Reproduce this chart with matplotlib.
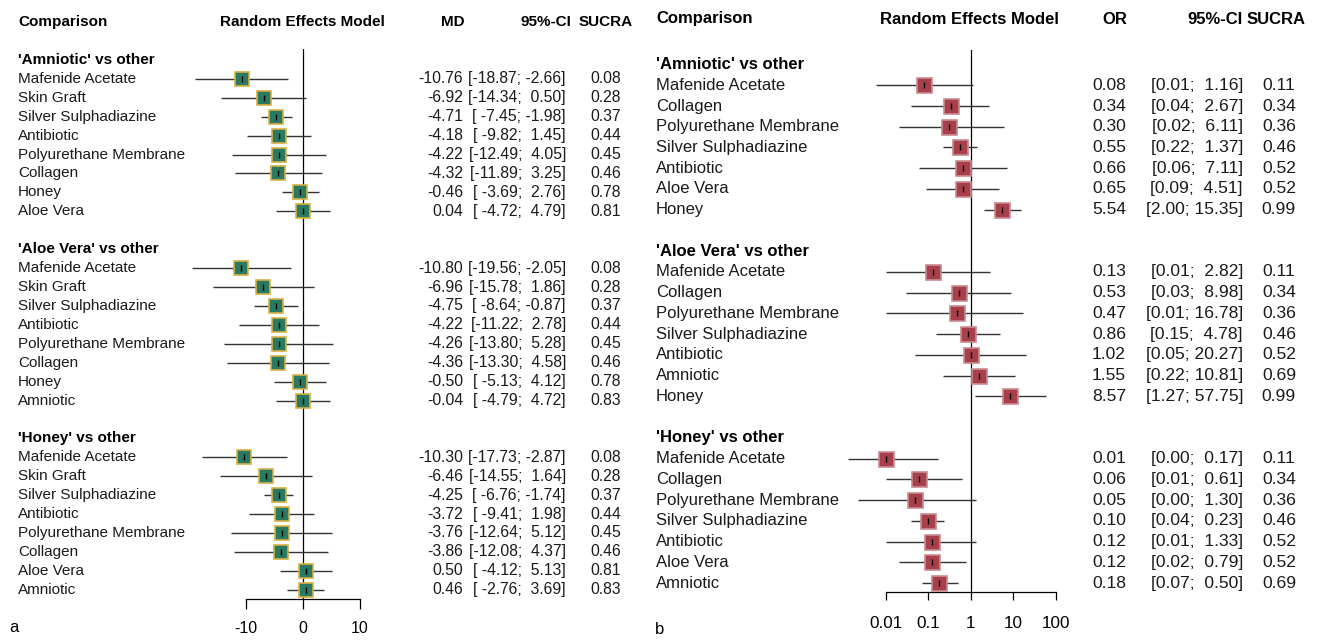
import matplotlib
matplotlib.use("Agg")
import matplotlib.pyplot as plt
import matplotlib.transforms as mtransforms
from matplotlib.ticker import NullLocator

plt.rcParams["font.family"] = ["Liberation Sans", "DejaVu Sans"]

W, H = 1322, 641

# panel a: mean difference
groups_a = ["'Amniotic' vs other", "'Aloe Vera' vs other", "'Honey' vs other"]

labels_a = [
    ["Mafenide Acetate", "Skin Graft", "Silver Sulphadiazine", "Antibiotic",
     "Polyurethane Membrane", "Collagen", "Honey", "Aloe Vera"],
    ["Mafenide Acetate", "Skin Graft", "Silver Sulphadiazine", "Antibiotic",
     "Polyurethane Membrane", "Collagen", "Honey", "Amniotic"],
    ["Mafenide Acetate", "Skin Graft", "Silver Sulphadiazine", "Antibiotic",
     "Polyurethane Membrane", "Collagen", "Aloe Vera", "Amniotic"],
]

md_a = [
    [-10.76, -6.92, -4.71, -4.18, -4.22, -4.32, -0.46, 0.04],
    [-10.80, -6.96, -4.75, -4.22, -4.26, -4.36, -0.50, -0.04],
    [-10.30, -6.46, -4.25, -3.72, -3.76, -3.86, 0.50, 0.46],
]

lower_a = [
    [-18.87, -14.34, -7.45, -9.82, -12.49, -11.89, -3.69, -4.72],
    [-19.56, -15.78, -8.64, -11.22, -13.80, -13.30, -5.13, -4.79],
    [-17.73, -14.55, -6.76, -9.41, -12.64, -12.08, -4.12, -2.76],
]

upper_a = [
    [-2.66, 0.50, -1.98, 1.45, 4.05, 3.25, 2.76, 4.79],
    [-2.05, 1.86, -0.87, 2.78, 5.28, 4.58, 4.12, 4.72],
    [-2.87, 1.64, -1.74, 1.98, 5.12, 4.37, 5.13, 3.69],
]

sucra_a = [
    [0.08, 0.28, 0.37, 0.44, 0.45, 0.46, 0.78, 0.81],
    [0.08, 0.28, 0.37, 0.44, 0.45, 0.46, 0.78, 0.83],
    [0.08, 0.28, 0.37, 0.44, 0.45, 0.46, 0.81, 0.83],
]

ticks_a = [-10, 0, 10]
tick_labels_a = ["-10", "0", "10"]

# panel b: odds ratio
groups_b = ["'Amniotic' vs other", "'Aloe Vera' vs other", "'Honey' vs other"]

labels_b = [
    ["Mafenide Acetate", "Collagen", "Polyurethane Membrane", "Silver Sulphadiazine",
     "Antibiotic", "Aloe Vera", "Honey"],
    ["Mafenide Acetate", "Collagen", "Polyurethane Membrane", "Silver Sulphadiazine",
     "Antibiotic", "Amniotic", "Honey"],
    ["Mafenide Acetate", "Collagen", "Polyurethane Membrane", "Silver Sulphadiazine",
     "Antibiotic", "Aloe Vera", "Amniotic"],
]

or_b = [
    [0.08, 0.34, 0.30, 0.55, 0.66, 0.65, 5.54],
    [0.13, 0.53, 0.47, 0.86, 1.02, 1.55, 8.57],
    [0.01, 0.06, 0.05, 0.10, 0.12, 0.12, 0.18],
]

lower_b = [
    [0.006, 0.04, 0.02, 0.22, 0.06, 0.09, 2.00],
    [0.01, 0.03, 0.01, 0.15, 0.05, 0.22, 1.27],
    [0.0013, 0.01, 0.0022, 0.04, 0.01, 0.02, 0.07],
]

upper_b = [
    [1.16, 2.67, 6.11, 1.37, 7.11, 4.51, 15.35],
    [2.82, 8.98, 16.78, 4.78, 20.27, 10.81, 57.75],
    [0.17, 0.61, 1.30, 0.23, 1.33, 0.79, 0.50],
]

sucra_b = [
    [0.11, 0.34, 0.36, 0.46, 0.52, 0.52, 0.99],
    [0.11, 0.34, 0.36, 0.46, 0.52, 0.69, 0.99],
    [0.11, 0.34, 0.36, 0.46, 0.52, 0.52, 0.69],
]

ticks_b = [0.01, 0.1, 1, 10, 100]
tick_labels_b = ["0.01", "0.1", "1", "10", "100"]


fig = plt.figure(figsize=(W / 100, H / 100), dpi=100)
fig.patch.set_facecolor("white")


def box(left, top, right, bottom):
    return fig.add_axes([
        left / W,
        1 - bottom / H,
        (right - left) / W,
        (bottom - top) / H
    ])


def forest(ax, groups, labels, est, lo, hi, sucra, cols, fill, edge, msize, fs, nfs):

    n = len(labels[0])
    trans = mtransforms.blended_transform_factory(fig.transFigure, ax.transData)

    wl = max(len(f"{v:.2f}") for g in lo for v in g)
    wh = max(len(f"{v:.2f}") for g in hi for v in g)

    for g, name in enumerate(groups):

        k0 = g * (n + 2)
        rows = [k0 + 1 + i for i in range(n)]

        ax.text(cols["label"] / W, k0, name, transform=trans,
                fontsize=fs, fontweight="bold", ha="left", va="center")

        ax.hlines(rows, lo[g], hi[g], color="#333333", lw=1.0, zorder=2)

        ax.plot(est[g], rows, "s", ms=msize, mfc=fill, mec=edge,
                mew=1.2, zorder=3)

        ax.plot(est[g], rows, "|", ms=msize * 0.45, color="black",
                mew=1.0, zorder=4)

        for i, r in enumerate(rows):

            ax.text(cols["label"] / W, r, labels[g][i], transform=trans,
                    fontsize=fs, ha="left", va="center", color="#1a1a1a")

            ax.text(cols["est"] / W, r, f"{est[g][i]:.2f}", transform=trans,
                    fontsize=nfs, ha="right", va="center", color="#1a1a1a")

            ci = f"[{lo[g][i]:>{wl}.2f}; {hi[g][i]:>{wh}.2f}]"
            ax.text(cols["ci"] / W, r, ci, transform=trans,
                    fontsize=nfs, ha="right", va="center", color="#1a1a1a")

            ax.text(cols["sucra"] / W, r, f"{sucra[g][i]:.2f}", transform=trans,
                    fontsize=nfs, ha="center", va="center", color="#1a1a1a")

    for s in ["top", "right", "left"]:
        ax.spines[s].set_visible(False)

    ax.set_yticks([])
    ax.patch.set_alpha(0)


# panel a
ax_a = box(183.3, 49, 422.7, 599)
ax_a.set_xlim(-21, 21)
ax_a.set_ylim(28.49, -0.58)
ax_a.axvline(0, color="black", lw=0.9, zorder=1)

forest(
    ax_a, groups_a, labels_a, md_a, lower_a, upper_a, sucra_a,
    {"label": 18, "est": 463, "ci": 566, "sucra": 606},
    "#2a7a63", "#d6b043", 9.4, 11, 11.3
)

ax_a.set_xticks(ticks_a, labels=tick_labels_a, fontsize=11.5)
ax_a.spines["bottom"].set_bounds(ticks_a[0], ticks_a[-1])
ax_a.spines["bottom"].set_linewidth(0.9)
ax_a.tick_params(axis="x", direction="out", length=7, width=0.9, pad=8.5)

fig.text(18 / W, 1 - 22 / H, "Comparison", fontsize=11, fontweight="bold",
         ha="left", va="center")
fig.text(302 / W, 1 - 22 / H, "Random Effects Model", fontsize=11,
         fontweight="bold", ha="center", va="center")
fig.text(465 / W, 1 - 22 / H, "MD", fontsize=11, fontweight="bold",
         ha="right", va="center")
fig.text(571 / W, 1 - 22 / H, "95%-CI", fontsize=11, fontweight="bold",
         ha="right", va="center")
fig.text(606 / W, 1 - 22 / H, "SUCRA", fontsize=11, fontweight="bold",
         ha="center", va="center")
fig.text(9 / W, 1 - 628 / H, "a", fontsize=12, ha="left", va="center")

# panel b
ax_b = box(834.7, 50, 1077, 592)
ax_b.set_xscale("log")
ax_b.set_xlim(10 ** -3.2, 10 ** 2.5)
ax_b.set_ylim(25.43, -0.7)
ax_b.axvline(1, color="black", lw=0.9, zorder=1)

forest(
    ax_b, groups_b, labels_b, or_b, lower_b, upper_b, sucra_b,
    {"label": 656, "est": 1126, "ci": 1243, "sucra": 1279},
    "#a8404c", "#c98a90", 10.8, 12, 12.6
)

ax_b.set_xticks(ticks_b, labels=tick_labels_b, fontsize=12.3)
ax_b.xaxis.set_minor_locator(NullLocator())
ax_b.spines["bottom"].set_bounds(ticks_b[0], ticks_b[-1])
ax_b.spines["bottom"].set_linewidth(0.9)
ax_b.tick_params(axis="x", direction="out", length=6, width=0.9, pad=11)

fig.text(656 / W, 1 - 19 / H, "Comparison", fontsize=12, fontweight="bold",
         ha="left", va="center")
fig.text(969 / W, 1 - 19 / H, "Random Effects Model", fontsize=12,
         fontweight="bold", ha="center", va="center")
fig.text(1127 / W, 1 - 19 / H, "OR", fontsize=12, fontweight="bold",
         ha="right", va="center")
fig.text(1243 / W, 1 - 19 / H, "95%-CI", fontsize=12, fontweight="bold",
         ha="right", va="center")
fig.text(1276 / W, 1 - 19 / H, "SUCRA", fontsize=12, fontweight="bold",
         ha="center", va="center")
fig.text(655 / W, 1 - 630 / H, "b", fontsize=12, ha="left", va="center")

fig.savefig("out.png", dpi=100, facecolor="white")
